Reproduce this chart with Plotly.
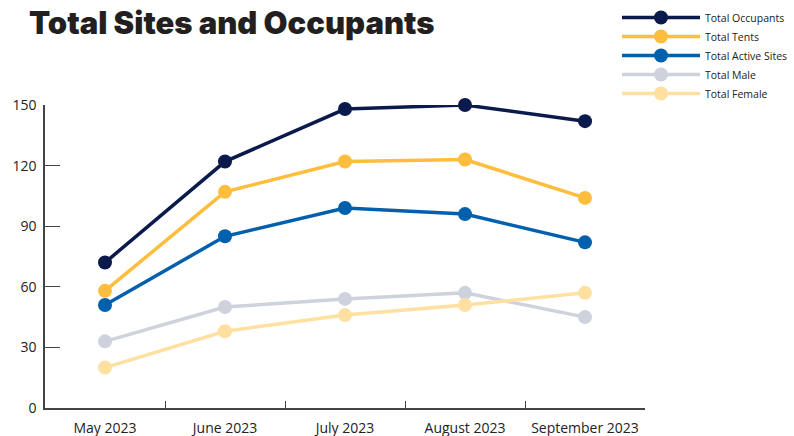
import plotly.graph_objects as go

months = ["May 2023", "June 2023", "July 2023", "August 2023", "September 2023"]
series_names = ["Total Occupants", "Total Tents", "Total Active Sites", "Total Male", "Total Female"]
occupants = [72, 122, 148, 150, 142]
tents = [58, 107, 122, 123, 104]
active_sites = [51, 85, 99, 96, 82]
male = [33, 50, 54, 57, 45]
female = [20, 38, 46, 51, 57]
colors = ["#0b1a4d", "#ffbd3e", "#0060ae", "#cdd2dc", "#ffe0a0"]
y_ticks = [0, 30, 60, 90, 120, 150]

fig = go.Figure()
for name, vals, c in zip(series_names, [occupants, tents, active_sites, male, female], colors):
    fig.add_trace(go.Scatter(
        x=months, y=vals, name=name, mode="lines+markers",
        line=dict(color=c, width=3.5),
        marker=dict(color=c, size=14),
        cliponaxis=False,
    ))

fig.update_layout(
    width=794, height=436,
    margin=dict(l=45, r=149, t=105, b=28, autoexpand=False),
    paper_bgcolor="white", plot_bgcolor="white",
    font=dict(family="Open Sans", color="#222222"),
    title=dict(
        text="Total Sites and Occupants",
        font=dict(family="Inter", size=31, color="#231f20", weight=900),
        x=29/794, xanchor="left", xref="container",
        y=1 - 23/436, yanchor="middle", yref="container",
    ),
    legend=dict(
        x=617/794, y=1 - 3/436, xref="container", yref="container",
        xanchor="left", yanchor="top",
        font=dict(size=10.5, color="#222222", family="Open Sans"),
        itemwidth=78, bgcolor="rgba(0,0,0,0)",
        tracegroupgap=0,
    ),
    showlegend=True,
)
fig.update_xaxes(
    type="category", range=[-0.5, 4.5], automargin=False,
    showline=True, linecolor="#444444", linewidth=1.5,
    ticks="inside", ticklen=7, tickcolor="#444444", tickwidth=1.2,
    tickson="boundaries", showgrid=False, zeroline=False,
    tickfont=dict(size=14, color="#222222"),
    ticklabelstandoff=6,
)
fig.update_yaxes(
    range=[0, 150], tickvals=y_ticks, automargin=False,
    showline=True, linecolor="#444444", linewidth=1.5,
    ticks="inside", ticklen=15, tickcolor="#444444", tickwidth=1.2,
    showgrid=False, zeroline=False,
    tickfont=dict(size=14, color="#222222"),
    ticklabelstandoff=4,
)

fig.write_html("out.html")
